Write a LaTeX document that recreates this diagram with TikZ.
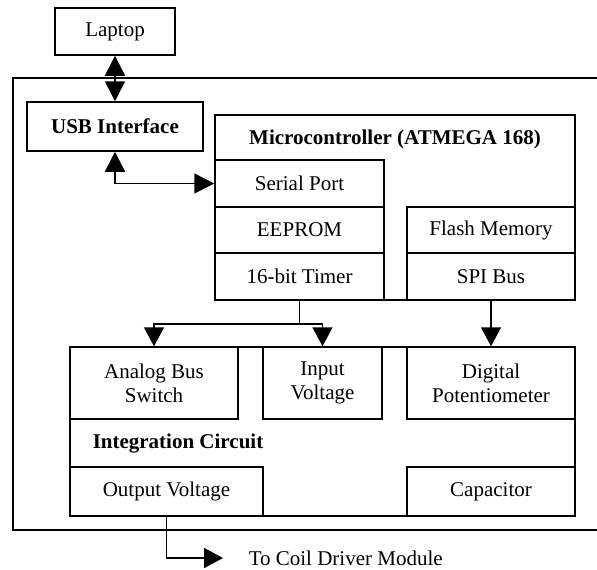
\documentclass[tikz,border=0pt]{standalone}
\usepackage{fontspec}
\setmainfont{Liberation Serif}
\usetikzlibrary{arrows.meta}
\begin{document}
\begin{tikzpicture}[x=0.5pt, y=-0.5pt, line width=0.75pt,
    box/.style={draw, inner sep=0pt, align=center, font=\fontsize{10.5}{12}\selectfont},
    title/.style={inner sep=0pt, font=\fontsize{10.5}{12}\selectfont\bfseries},
    arr/.style={-{Triangle[length=9.5pt, width=10pt]}},
    dblarr/.style={{Triangle[length=10pt, width=10pt]}-{Triangle[length=10pt, width=10pt]}}]
    \useasboundingbox (0,0) rectangle (597,569);

    % Outer frame (open on the right)
    \draw (597,78) -- (13,78) -- (13,530) -- (597,530);

    % Laptop and USB interface
    \node[box, minimum width=60pt, minimum height=23.5pt] (laptop) at (115,31.5) {Laptop};
    \node[box, minimum width=88pt, minimum height=24.5pt, font=\fontsize{10.5}{12}\selectfont\bfseries] (usb) at (115,126.5) {USB Interface};

    % Microcontroller block
    \node[box, minimum width=180pt, minimum height=92.5pt] (micro) at (395,207.5) {};
    \node[title] (microlabel) at (395,139) {Microcontroller (ATMEGA 168)};
    \node[box, minimum width=84.5pt, minimum height=23.5pt] (serial) at (299.5,183.5) {Serial Port};
    \node[box, minimum width=84.5pt, minimum height=23pt] (eeprom) at (299.5,230) {EEPROM};
    \node[box, minimum width=84.5pt, minimum height=23.5pt] (timer) at (299.5,276.5) {16-bit Timer};
    \node[box, minimum width=84pt, minimum height=23pt] (flash) at (491,230) {Flash Memory};
    \node[box, minimum width=84pt, minimum height=23.5pt] (spi) at (491,276.5) {SPI Bus};

    % Integration circuit block
    \node[box, minimum width=252.5pt, minimum height=84.5pt] (integ) at (322.5,431.5) {};
    \node[box, minimum width=84pt, minimum height=36pt] (analog) at (154,383) {Analog Bus\\Switch};
    \node[box, minimum width=59.5pt, minimum height=36pt] (input) at (322.5,383) {Input\\Voltage};
    \node[box, minimum width=84pt, minimum height=36pt] (digipot) at (491,383) {Digital\\Potentiometer};
    \node[title, anchor=west] (integlabel) at (92,444) {Integration Circuit};
    \node[box, minimum width=96.5pt, minimum height=24.5pt] (outv) at (166.5,491.5) {Output Voltage};
    \node[box, minimum width=84pt, minimum height=24.5pt] (cap) at (491,491.5) {Capacitor};

    % Output to coil driver
    \node[inner sep=0pt, anchor=west, font=\fontsize{10.5}{12}\selectfont] (coil) at (248,558) {To Coil Driver Module};
    \coordinate (coilend) at (223,558);

    % Connections
    \draw[dblarr] (laptop.south) -- (usb.north);
    \draw[dblarr] (usb.south) |- (serial.west);
    \draw[arr] (timer.south) -- ++(0,23) coordinate (split) -| (analog.north);
    \draw[arr] (split) -| (input.north);
    \draw[arr] (spi.south) -- (digipot.north);
    \draw[arr] (outv.south) |- (coilend);

\end{tikzpicture}
\end{document}
